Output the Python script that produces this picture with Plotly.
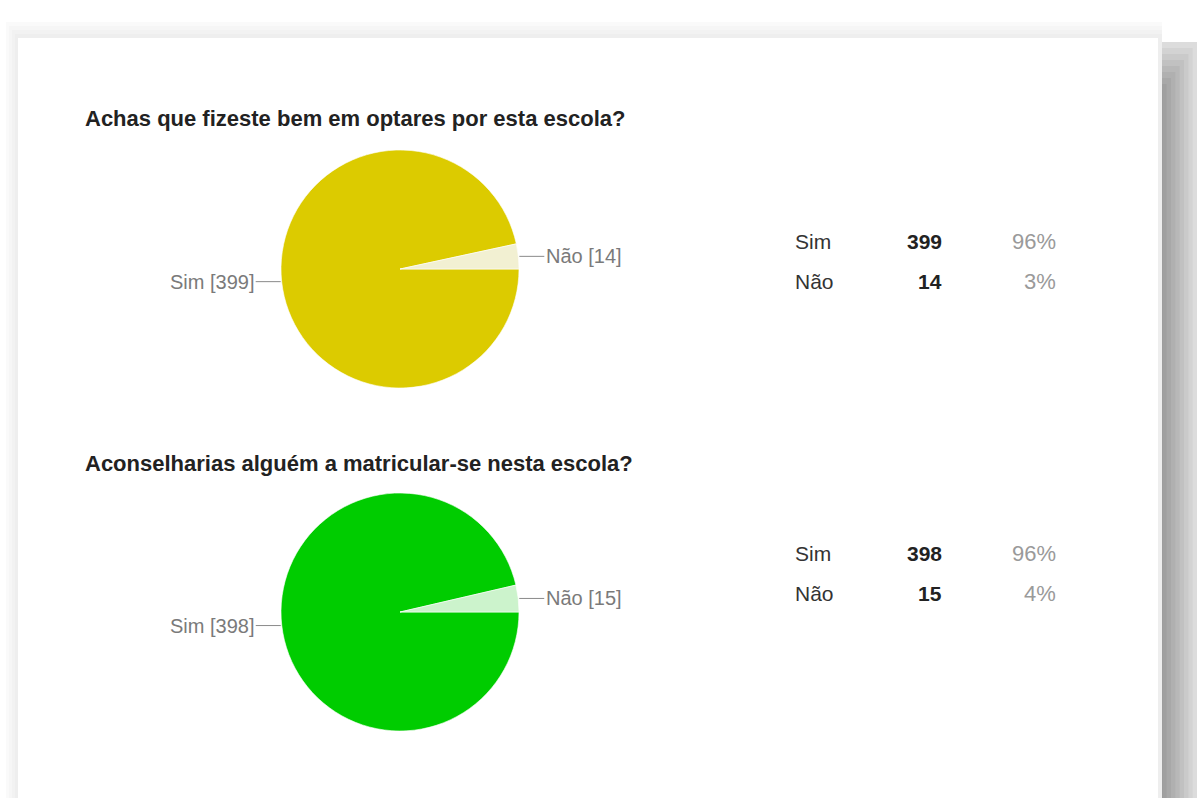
import math
import plotly.graph_objects as go

W, H = 1197, 798

# Survey answers
questions = [
    "Achas que fizeste bem em optares por esta escola?",
    "Aconselharias alguém a matricular-se nesta escola?",
]
answer_labels = ["Sim", "Não"]
q1_counts = [399, 14]
q2_counts = [398, 15]
q1_percent = ["96%", "3%"]
q2_percent = ["96%", "4%"]

pie_colors = [
    ["#dccb00", "#f2f0d2"],
    ["#00cc00", "#ccf3cc"],
]

FONT = "Liberation Sans, Arial, sans-serif"


def px(x):
    return x / W


def py(y):
    return 1 - y / H


# block layout (pixel positions of each question block)
blocks = [
    dict(title_y=118, cx=400, cy=269, r=119, row_y=[242, 282]),
    dict(title_y=463, cx=400, cy=612, r=119, row_y=[553, 593]),
]
all_counts = [q1_counts, q2_counts]
all_percent = [q1_percent, q2_percent]

fig = go.Figure()
annotations = []
shapes = []

# card shadow (right side, top and left edges)
right_grays = ["#dcdcdc", "#d3d3d3", "#cacaca", "#c1c1c1", "#b8b8b8",
               "#b0b0b0", "#a8a8a8", "#a0a0a0", "#989898"]
n = len(right_grays)
for i, col in enumerate(right_grays):
    x1 = 1197 - i * (39 / n)
    shapes.append(dict(type="rect", xref="paper", yref="paper",
                       x0=px(1158), x1=px(x1), y0=py(H), y1=py(42 + i * 6),
                       fillcolor=col, line_width=0, layer="below"))
for i, col in enumerate(["#fafafa", "#f6f6f6", "#f2f2f2", "#eeeeee"]):
    shapes.append(dict(type="rect", xref="paper", yref="paper",
                       x0=px(6 + i * 3), x1=px(1162), y0=py(H), y1=py(22 + i * 4),
                       fillcolor=col, line_width=0, layer="below"))
# white card
shapes.append(dict(type="rect", xref="paper", yref="paper",
                   x0=px(18), x1=px(1158), y0=py(H), y1=py(38),
                   fillcolor="#ffffff", line_width=0, layer="below"))

for qi, blk in enumerate(blocks):
    counts = all_counts[qi]
    cx, cy, r = blk["cx"], blk["cy"], blk["r"]
    fig.add_trace(go.Pie(
        values=counts, labels=answer_labels, sort=False, direction="counterclockwise",
        rotation=90, textinfo="none", hoverinfo="label+value+percent",
        marker=dict(colors=pie_colors[qi], line=dict(color="rgba(255,255,255,0.6)", width=1)),
        domain=dict(x=[px(cx - r), px(cx + r)], y=[py(cy + r), py(cy - r)]),
        showlegend=False,
    ))

    # slice labels with leader lines; going counterclockwise from 3 o'clock: Não, then Sim
    order = [1, 0]
    total = sum(counts)
    cum = 0
    for k in order:
        v = counts[k]
        theta = math.radians(360 * (cum + v / 2) / total)
        cum += v
        ex = cx + r * math.cos(theta)
        ey = cy - r * math.sin(theta)
        right = math.cos(theta) > 0
        annotations.append(dict(
            x=px(ex + (1 if right else -1)), y=py(ey), xref="paper", yref="paper",
            text=f"{answer_labels[k]} [{v}]", showarrow=True, arrowhead=0, arrowwidth=1,
            arrowcolor="#8a8a8a", ax=25 if right else -25, ay=0,
            xanchor="left" if right else "right", yanchor="middle",
            font=dict(family=FONT, size=20, color="#7a7a7a"),
        ))

    # question title
    annotations.append(dict(
        x=px(83), y=py(blk["title_y"]), xref="paper", yref="paper",
        text=f"<b>{questions[qi]}</b>", showarrow=False,
        xanchor="left", yanchor="middle",
        font=dict(family=FONT, size=22, color="#222222"),
    ))

    # summary table
    for k, ry in enumerate(blk["row_y"]):
        annotations.append(dict(
            x=px(793), y=py(ry), xref="paper", yref="paper",
            text=answer_labels[k], showarrow=False, xanchor="left", yanchor="middle",
            font=dict(family=FONT, size=21, color="#333333"),
        ))
        annotations.append(dict(
            x=px(944), y=py(ry), xref="paper", yref="paper",
            text=f"<b>{counts[k]}</b>", showarrow=False, xanchor="right", yanchor="middle",
            font=dict(family=FONT, size=21, color="#222222"),
        ))
        annotations.append(dict(
            x=px(1058), y=py(ry), xref="paper", yref="paper",
            text=all_percent[qi][k], showarrow=False, xanchor="right", yanchor="middle",
            font=dict(family=FONT, size=22, color="#9a9a9a"),
        ))

fig.update_layout(
    width=W, height=H,
    margin=dict(l=0, r=0, t=0, b=0),
    paper_bgcolor="#ffffff", plot_bgcolor="#ffffff",
    annotations=annotations, shapes=shapes,
)

fig.write_html("out.html")
